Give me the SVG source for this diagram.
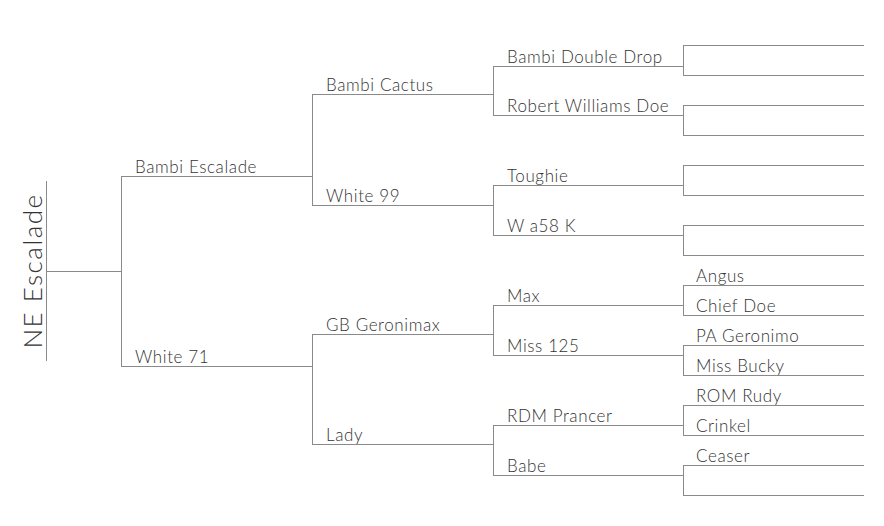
<svg xmlns="http://www.w3.org/2000/svg" width="884" height="526" viewBox="0 0 884 526">
<style>
.l{fill:none;stroke:#8a8a8a;stroke-width:1}
.t{font-family:Lato,"Open Sans","Liberation Sans",sans-serif;font-weight:300;font-size:17px;letter-spacing:0.6px;fill:#333}
.r{font-family:Lato,"Open Sans","Liberation Sans",sans-serif;font-weight:300;font-size:26px;letter-spacing:1.5px;fill:#333}
</style>
<rect width="884" height="526" fill="#fff"/>
<g id="connectors">
<path class="l" d="M46.5 181V361M46 271.5H121.5M121.5 176V366"/>
<path class="l" d="M312.5 94V205M312.5 334V445"/>
<path class="l" d="M493.5 66V115M493.5 185V235M493.5 306V355M493.5 426V475"/>
<path class="l" d="M683.5 45V75M683.5 105V135M683.5 165V195M683.5 225V255M683.5 285V315M683.5 345V375M683.5 405V435M683.5 465V495"/>
</g>
<g id="n-root"><text class="r" transform="translate(42 271) rotate(-90)" text-anchor="middle">NE Escalade</text></g>
<g id="n-bambi-escalade"><path class="l" d="M121 176.5H312"/><text class="t" x="135" y="173">Bambi Escalade</text></g>
<g id="n-white-71"><path class="l" d="M121 366.5H312"/><text class="t" x="135" y="363">White 71</text></g>
<g id="n-bambi-cactus"><path class="l" d="M312 94.5H493"/><text class="t" x="326" y="91">Bambi Cactus</text></g>
<g id="n-white-99"><path class="l" d="M312 205.5H493"/><text class="t" x="326" y="202">White 99</text></g>
<g id="n-gb-geronimax"><path class="l" d="M312 334.5H493"/><text class="t" x="326" y="331">GB Geronimax</text></g>
<g id="n-lady"><path class="l" d="M312 444.5H493"/><text class="t" x="326" y="441">Lady</text></g>
<g id="n-bambi-double-drop"><path class="l" d="M493 66.5H683"/><text class="t" x="507" y="63">Bambi Double Drop</text></g>
<g id="n-robert-williams-doe"><path class="l" d="M493 115.5H683"/><text class="t" x="507" y="112">Robert Williams Doe</text></g>
<g id="n-toughie"><path class="l" d="M493 185.5H683"/><text class="t" x="507" y="182">Toughie</text></g>
<g id="n-w-a58-k"><path class="l" d="M493 235.5H683"/><text class="t" x="507" y="232">W a58 K</text></g>
<g id="n-max"><path class="l" d="M493 305.5H683"/><text class="t" x="507" y="302">Max</text></g>
<g id="n-miss-125"><path class="l" d="M493 355.5H683"/><text class="t" x="507" y="352">Miss 125</text></g>
<g id="n-rdm-prancer"><path class="l" d="M493 425.5H683"/><text class="t" x="507" y="422">RDM Prancer</text></g>
<g id="n-babe"><path class="l" d="M493 475.5H683"/><text class="t" x="507" y="472">Babe</text></g>
<g id="n-g4-1"><path class="l" d="M683 45.5H864"/></g>
<g id="n-g4-2"><path class="l" d="M683 75.5H864"/></g>
<g id="n-g4-3"><path class="l" d="M683 105.5H864"/></g>
<g id="n-g4-4"><path class="l" d="M683 135.5H864"/></g>
<g id="n-g4-5"><path class="l" d="M683 165.5H864"/></g>
<g id="n-g4-6"><path class="l" d="M683 195.5H864"/></g>
<g id="n-g4-7"><path class="l" d="M683 225.5H864"/></g>
<g id="n-g4-8"><path class="l" d="M683 255.5H864"/></g>
<g id="n-angus"><path class="l" d="M683 285.5H864"/><text class="t" x="696" y="282">Angus</text></g>
<g id="n-chief-doe"><path class="l" d="M683 315.5H864"/><text class="t" x="696" y="312">Chief Doe</text></g>
<g id="n-pa-geronimo"><path class="l" d="M683 345.5H864"/><text class="t" x="696" y="342">PA Geronimo</text></g>
<g id="n-miss-bucky"><path class="l" d="M683 375.5H864"/><text class="t" x="696" y="372">Miss Bucky</text></g>
<g id="n-rom-rudy"><path class="l" d="M683 405.5H864"/><text class="t" x="696" y="402">ROM Rudy</text></g>
<g id="n-crinkel"><path class="l" d="M683 435.5H864"/><text class="t" x="696" y="432">Crinkel</text></g>
<g id="n-ceaser"><path class="l" d="M683 465.5H864"/><text class="t" x="696" y="462">Ceaser</text></g>
<g id="n-g4-16"><path class="l" d="M683 495.5H864"/></g>
</svg>
